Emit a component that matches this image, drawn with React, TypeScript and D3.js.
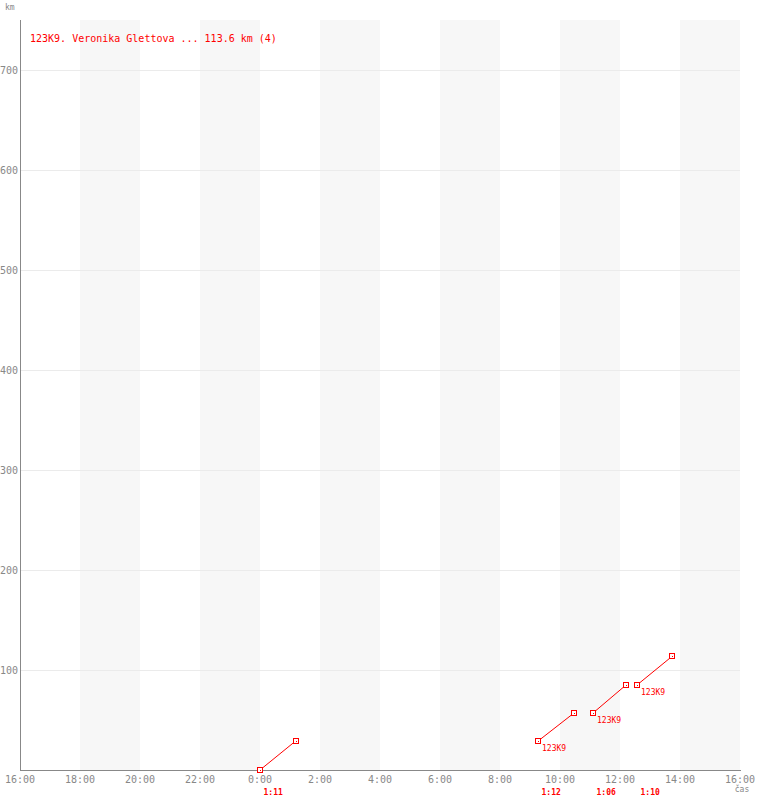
import React from "react";
import * as d3 from "d3";

const title = "123K9. Veronika Glettova ... 113.6 km (4)";
const runner = "123K9";
const segStart = ["2020-01-02 00:00", "2020-01-02 09:16", "2020-01-02 11:06", "2020-01-02 12:34"];
const segEnd = ["2020-01-02 01:11", "2020-01-02 10:28", "2020-01-02 12:12", "2020-01-02 13:44"];
const kmStart = [0, 28.9, 57.0, 85.0];
const kmEnd = [28.9, 57.0, 85.0, 113.6];
const durations = ["1:11", "1:12", "1:06", "1:10"];
const showRunnerLabel = [false, true, true, true];
const yTicks = [100, 200, 300, 400, 500, 600, 700];
const xDomain = ["2020-01-01 16:00", "2020-01-02 16:00"];
const yLabel = "km";
const xLabel = "čas";

const parse = d3.timeParse("%Y-%m-%d %H:%M");
const W = 760, H = 800;
const left = 20, right = 740, top = 20, bottom = 770;
const FONT = "'DejaVu Sans Mono', monospace";
const GRAY = "#888";
const RED = "#ff0000";

export default function App() {
  const x = d3.scaleTime().domain(xDomain.map((s) => parse(s) as Date)).range([left, right]);
  const y = d3.scaleLinear().domain([0, 700]).range([bottom, 70]);
  const xTicks = x.ticks(d3.timeHour.every(2) as any);
  const fmt = d3.timeFormat("%-H:%M");
  const stripes = xTicks.slice(0, -1).filter((_, i) => i % 2 === 1);
  const segs = segStart.map((s, i) => ({
    t0: parse(s) as Date,
    t1: parse(segEnd[i]) as Date,
    k0: kmStart[i],
    k1: kmEnd[i],
    dur: durations[i],
    lab: showRunnerLabel[i],
  }));
  const marker = (cx: number, cy: number, key: string) => {
    const px = Math.round(cx), py = Math.round(cy);
    return (
      <g key={key} shapeRendering="crispEdges">
        <rect x={px - 2.5} y={py - 2.5} width={5} height={5} fill="#fff" stroke={RED} strokeWidth={1} />
        <rect x={px} y={py} width={1} height={1} fill={RED} />
      </g>
    );
  };
  return (
    <svg width={W} height={H} style={{ position: "absolute", left: 0, top: 0, background: "#fff" }}>
      {stripes.map((t, i) => {
        const x0 = x(t);
        const x1 = x(d3.timeHour.offset(t, 2));
        return <rect key={"s" + i} x={x0} y={top} width={x1 - x0} height={bottom - top} fill="#f7f7f7" />;
      })}
      {yTicks.map((v) => (
        <line key={"g" + v} x1={left} x2={right} y1={Math.round(y(v)) + 0.5} y2={Math.round(y(v)) + 0.5} stroke="#ebebeb" shapeRendering="crispEdges" />
      ))}
      <line x1={left + 0.5} x2={left + 0.5} y1={top} y2={bottom + 1} stroke={GRAY} shapeRendering="crispEdges" />
      <line x1={left} x2={right + 1} y1={bottom + 0.5} y2={bottom + 0.5} stroke={GRAY} shapeRendering="crispEdges" />
      {yTicks.map((v) => (
        <text key={"yl" + v} x={18} y={y(v) + 4} textAnchor="end" fontFamily={FONT} fontSize={10} fill={GRAY}>
          {v}
        </text>
      ))}
      {xTicks.map((t, i) => (
        <text key={"xl" + i} x={x(t)} y={783} textAnchor="middle" fontFamily={FONT} fontSize={10} fill={GRAY}>
          {fmt(t)}
        </text>
      ))}
      <text x={5} y={10} fontFamily={FONT} fontSize={8} fill={GRAY}>{yLabel}</text>
      <text x={742} y={792} textAnchor="middle" fontFamily={FONT} fontSize={8} fill={GRAY}>{xLabel}</text>
      <text x={30} y={42} fontFamily={FONT} fontSize={10} fill={RED}>{title}</text>
      {segs.map((s, i) => {
        const x0 = x(s.t0), x1 = x(s.t1), y0 = y(s.k0), y1 = y(s.k1);
        return (
          <g key={"seg" + i}>
            <line x1={x0} y1={y0} x2={x1} y2={y1} stroke={RED} strokeWidth={1} />
            {marker(x0, y0, "m0")}
            {marker(x1, y1, "m1")}
            {s.lab && (
              <text x={x0 + 4} y={y0 + 10} fontFamily={FONT} fontSize={8} fill={RED}>{runner}</text>
            )}
            <text x={x0 + 3.5} y={794.5} fontFamily={FONT} fontSize={8} fontWeight="bold" fill={RED}>{s.dur}</text>
          </g>
        );
      })}
    </svg>
  );
}
